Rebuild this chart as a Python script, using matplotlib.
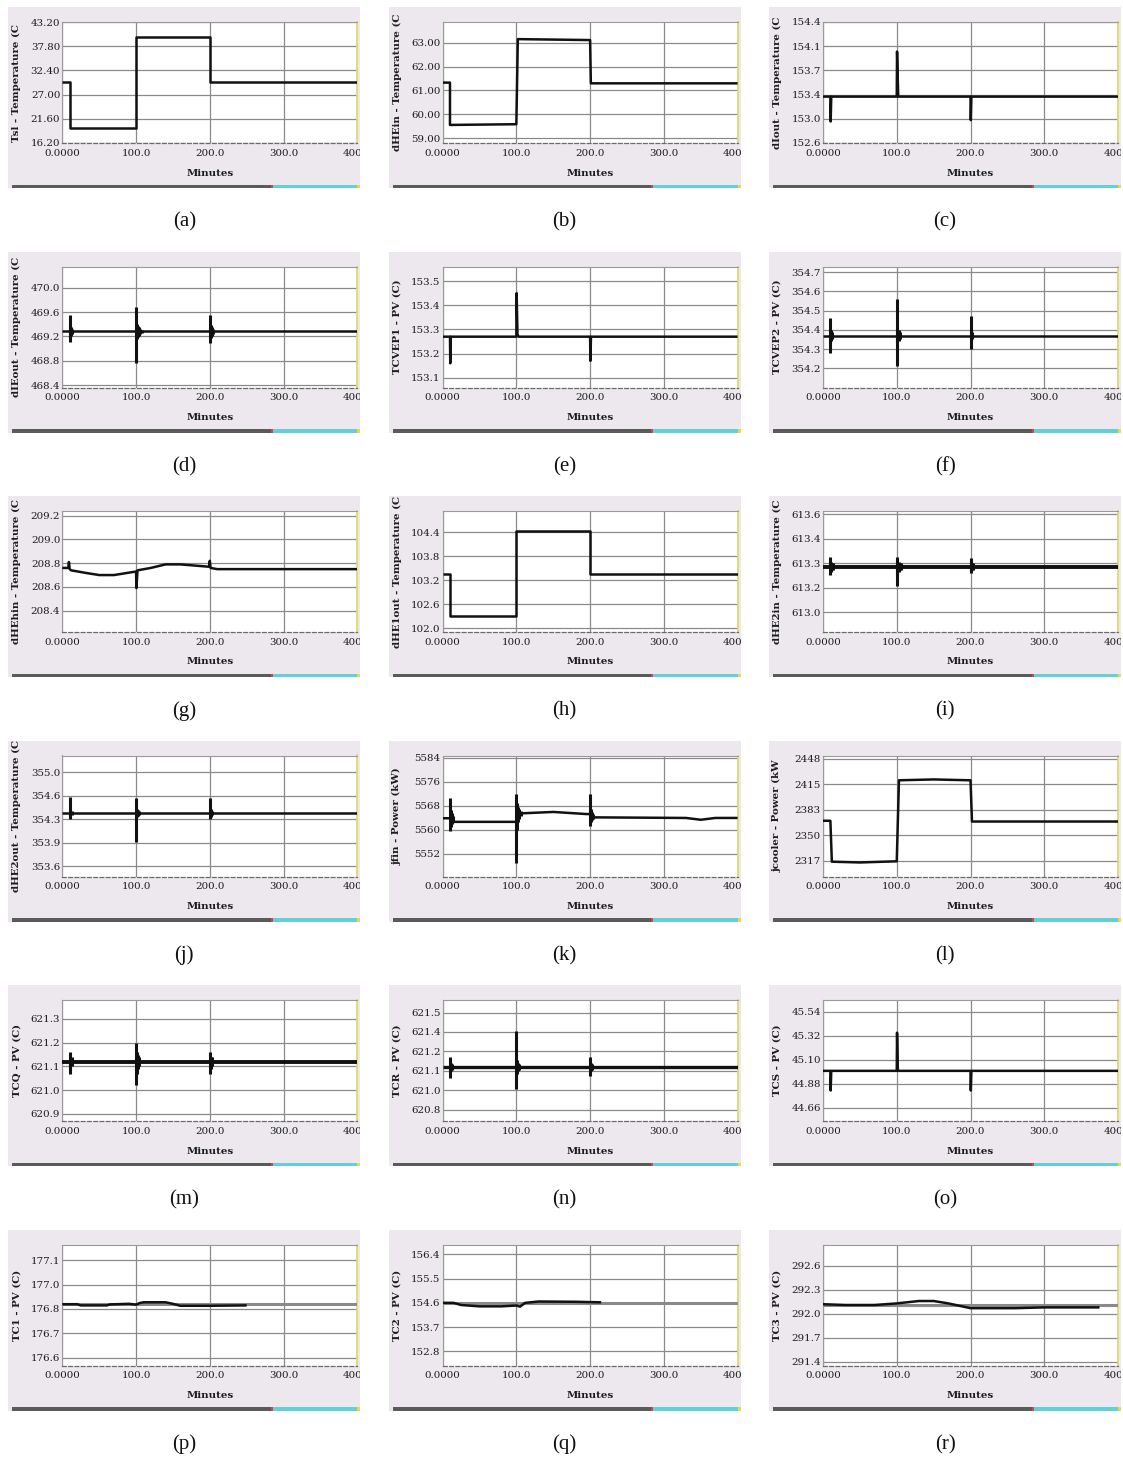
import matplotlib
matplotlib.use("Agg")
import matplotlib.pyplot as plt
from matplotlib.patches import Rectangle
from matplotlib.transforms import Bbox, TransformedBbox

# ---------------------------------------------------------------- data
x_ticks = [0, 100, 200, 300, 400]
x_ticklabels = ["0.0000", "100.0", "200.0", "300.0", "400.0"]
x_label = "Minutes"
captions = ["(a)", "(b)", "(c)", "(d)", "(e)", "(f)", "(g)", "(h)", "(i)",
            "(j)", "(k)", "(l)", "(m)", "(n)", "(o)", "(p)", "(q)", "(r)"]

# (a)
a_ylabel = "Tsl - Temperature (C"
a_time = [0, 10, 100, 200, 400]
a_value = [29.9, 19.6, 39.8, 29.9, 29.9]
a_yticks = [16.2, 21.6, 27.0, 32.4, 37.8, 43.2]
a_yticklabels = ["16.20", "21.60", "27.00", "32.40", "37.80", "43.20"]

# (b)
b_ylabel = "dHEin - Temperature (C"
b_time = [0, 10, 10, 100, 102, 200, 201, 400]
b_value = [61.33, 61.33, 59.55, 59.58, 63.16, 63.12, 61.30, 61.30]
b_yticks = [59, 60, 61, 62, 63]
b_yticklabels = ["59.00", "60.00", "61.00", "62.00", "63.00"]

# (c)
c_ylabel = "dIout - Temperature (C"
c_time = [0, 10, 10.4, 11.2, 100, 100.4, 102, 200, 200.4, 201.2, 400]
c_value = [153.33, 153.33, 152.96, 153.33, 153.33, 154.0, 153.33, 153.33, 152.98, 153.33, 153.33]
c_yticks = [152.64, 153.0, 153.36, 153.72, 154.08, 154.44]
c_yticklabels = ["152.6", "153.0", "153.4", "153.7", "154.1", "154.4"]

# (d)
d_ylabel = "dIEout - Temperature (C"
d_time = [0, 400]
d_value = [469.29, 469.29]
d_burst_t = [10, 10.8, 12, 13.5, 100, 101, 102.5, 104, 106, 108, 200, 201, 202.5, 204]
d_burst_hi = [469.55, 469.38, 469.35, 469.32, 469.69, 469.40, 469.37, 469.35, 469.32, 469.30, 469.55, 469.38, 469.35, 469.32]
d_burst_lo = [469.11, 469.18, 469.21, 469.24, 468.76, 469.16, 469.19, 469.21, 469.24, 469.26, 469.10, 469.18, 469.21, 469.24]
d_yticks = [468.4, 468.8, 469.2, 469.6, 470.0]
d_yticklabels = ["468.4", "468.8", "469.2", "469.6", "470.0"]

# (e)
e_ylabel = "TCVEP1 - PV (C)"
e_time = [0, 10, 10.4, 11.2, 100, 100.4, 101.5, 103, 200, 200.4, 201.2, 400]
e_value = [153.27, 153.27, 153.16, 153.27, 153.27, 153.45, 153.28, 153.27, 153.27, 153.17, 153.27, 153.27]
e_yticks = [153.1, 153.2, 153.3, 153.4, 153.5]
e_yticklabels = ["153.1", "153.2", "153.3", "153.4", "153.5"]

# (f)
f_ylabel = "TCVEP2 - PV (C)"
f_time = [0, 400]
f_value = [354.37, 354.37]
f_burst_t = [10, 11, 12.5, 100, 101, 102.5, 104, 200, 201, 202.5]
f_burst_hi = [354.46, 354.40, 354.39, 354.56, 354.41, 354.40, 354.39, 354.47, 354.40, 354.39]
f_burst_lo = [354.28, 354.34, 354.35, 354.21, 354.33, 354.34, 354.35, 354.30, 354.34, 354.35]
f_yticks = [354.2, 354.3, 354.4, 354.5, 354.6, 354.7]
f_yticklabels = ["354.2", "354.3", "354.4", "354.5", "354.6", "354.7"]

# (g)
g_ylabel = "dHEhin - Temperature (C"
g_time = [0, 8, 9, 10, 12, 30, 50, 70, 90, 100, 100.5, 102, 120, 140, 160, 180, 199, 200, 201, 210, 240, 400]
g_value = [208.76, 208.76, 208.81, 208.75, 208.74, 208.72, 208.70, 208.70, 208.72, 208.73, 208.59, 208.74,
           208.76, 208.79, 208.79, 208.78, 208.77, 208.82, 208.76, 208.75, 208.75, 208.75]
g_yticks = [208.4, 208.6, 208.8, 209.0, 209.2]
g_yticklabels = ["208.4", "208.6", "208.8", "209.0", "209.2"]

# (h)
h_ylabel = "dHE1out - Temperature (C"
h_time = [0, 10, 100, 200, 400]
h_value = [103.35, 102.30, 104.42, 103.35, 103.35]
h_yticks = [102.0, 102.6, 103.2, 103.8, 104.4]
h_yticklabels = ["102.0", "102.6", "103.2", "103.8", "104.4"]

# (i)
i_ylabel = "dHE2in - Temperature (C"
i_time = [0, 400]
i_value = [613.28, 613.28]
i_burst_t = [10, 11, 12.5, 14, 100, 101, 102.5, 104, 106, 200, 201, 202.5, 204]
i_burst_hi = [613.34, 613.31, 613.30, 613.30, 613.34, 613.31, 613.31, 613.30, 613.30, 613.33, 613.31, 613.30, 613.30]
i_burst_lo = [613.23, 613.25, 613.26, 613.26, 613.16, 613.22, 613.25, 613.26, 613.26, 613.24, 613.25, 613.26, 613.26]
i_yticks = [613.0, 613.15, 613.3, 613.45, 613.6]
i_yticklabels = ["613.0", "613.2", "613.3", "613.4", "613.6"]

# (j)
j_ylabel = "dHE2out - Temperature (C"
j_time = [0, 400]
j_value = [354.39, 354.39]
j_burst_t = [10, 11, 12.5, 100, 101, 102.5, 104, 200, 201, 202.5]
j_burst_hi = [354.63, 354.45, 354.43, 354.62, 354.46, 354.44, 354.42, 354.62, 354.45, 354.43]
j_burst_lo = [354.30, 354.34, 354.36, 353.96, 354.33, 354.35, 354.36, 354.30, 354.34, 354.36]
j_yticks = [353.6, 353.95, 354.3, 354.65, 355.0]
j_yticklabels = ["353.6", "353.9", "354.3", "354.6", "355.0"]

# (k)
k_ylabel = "jfin - Power (kW)"
k_time = [0, 10, 14, 100, 104, 150, 195, 200, 204, 330, 350, 370, 400]
k_value = [5563.9, 5563.9, 5562.7, 5562.7, 5565.5, 5566.0, 5565.3, 5565.3, 5564.2, 5564.0, 5563.4, 5564.0, 5564.0]
k_burst_t = [10, 11, 12.5, 14, 100, 101, 102.5, 104, 106, 200, 201, 202.5, 204]
k_burst_hi = [5570.7, 5566.5, 5565.5, 5564.8, 5572.0, 5569.0, 5567.5, 5567.0, 5566.3, 5572.0, 5567.0, 5566.0, 5565.2]
k_burst_lo = [5559.6, 5561.0, 5562.0, 5562.5, 5549.1, 5560.0, 5562.5, 5563.8, 5564.5, 5561.3, 5562.5, 5563.2, 5563.6]
k_yticks = [5552, 5560, 5568, 5576, 5584]
k_yticklabels = ["5552", "5560", "5568", "5576", "5584"]

# (l)
l_ylabel = "jcooler - Power (kW"
l_time = [0, 10, 12, 50, 100, 103, 150, 200, 202, 400]
l_value = [2368.5, 2368.5, 2316.0, 2315.0, 2316.5, 2420.4, 2421.5, 2420.4, 2367.5, 2367.5]
l_yticks = [2317, 2349.75, 2382.5, 2415.25, 2448]
l_yticklabels = ["2317", "2350", "2383", "2415", "2448"]

# (m)
m_ylabel = "TCQ - PV (C)"
m_time = [0, 400]
m_value = [621.12, 621.12]
m_burst_t = [10, 11, 12.5, 100, 101, 102.5, 104, 200, 201, 202.5]
m_burst_hi = [621.16, 621.14, 621.14, 621.20, 621.16, 621.15, 621.14, 621.16, 621.14, 621.14]
m_burst_lo = [621.07, 621.09, 621.10, 621.02, 621.07, 621.09, 621.10, 621.07, 621.09, 621.10]
m_yticks = [620.9, 621.0, 621.1, 621.2, 621.3]
m_yticklabels = ["620.9", "621.0", "621.1", "621.2", "621.3"]

# (n)
n_ylabel = "TCR - PV (C)"
n_time = [0, 400]
n_value = [621.13, 621.13]
n_burst_t = [10, 11, 12.5, 100, 101, 102.5, 104, 200, 201, 202.5]
n_burst_hi = [621.20, 621.16, 621.15, 621.39, 621.18, 621.16, 621.15, 621.20, 621.16, 621.15]
n_burst_lo = [621.05, 621.10, 621.11, 620.97, 621.08, 621.10, 621.11, 621.06, 621.10, 621.11]
n_yticks = [620.82, 620.96, 621.10, 621.24, 621.38, 621.52]
n_yticklabels = ["620.8", "621.0", "621.1", "621.2", "621.4", "621.5"]

# (o)
o_ylabel = "TCS - PV (C)"
o_time = [0, 10, 10.4, 11.2, 100, 100.4, 101.5, 200, 200.4, 201.2, 400]
o_value = [45.0, 45.0, 44.82, 45.0, 45.0, 45.35, 45.0, 45.0, 44.82, 45.0, 45.0]
o_yticks = [44.66, 44.88, 45.10, 45.32, 45.54]
o_yticklabels = ["44.66", "44.88", "45.10", "45.32", "45.54"]

# (p)
p_ylabel = "TC1 - PV (C)"
p_sp_time = [0, 400]
p_sp_value = [176.873, 176.873]
p_time = [0, 20, 25, 60, 65, 90, 100, 105, 110, 140, 150, 160, 200, 250]
p_value = [176.874, 176.874, 176.868, 176.868, 176.873, 176.876, 176.872, 176.880, 176.884, 176.884, 176.876, 176.866, 176.866, 176.868]
p_yticks = [176.6, 176.725, 176.85, 176.975, 177.1]
p_yticklabels = ["176.6", "176.7", "176.8", "177.0", "177.1"]

# (q)
q_ylabel = "TC2 - PV (C)"
q_sp_time = [0, 400]
q_sp_value = [154.6, 154.6]
q_time = [0, 15, 25, 50, 80, 100, 105, 112, 130, 180, 215]
q_value = [154.60, 154.60, 154.52, 154.47, 154.47, 154.50, 154.46, 154.60, 154.65, 154.64, 154.62]
q_yticks = [152.8, 153.7, 154.6, 155.5, 156.4]
q_yticklabels = ["152.8", "153.7", "154.6", "155.5", "156.4"]

# (r)
r_ylabel = "TC3 - PV (C)"
r_sp_time = [0, 400]
r_sp_value = [292.11, 292.11]
r_time = [0, 30, 70, 100, 130, 150, 170, 190, 200, 260, 300, 375]
r_value = [292.12, 292.11, 292.11, 292.13, 292.16, 292.16, 292.13, 292.09, 292.07, 292.07, 292.08, 292.08]
r_yticks = [291.4, 291.7, 292.0, 292.3, 292.6]
r_yticklabels = ["291.4", "291.7", "292.0", "292.3", "292.6"]

# --------------------------------------------------------------- layout
W, H = 1123, 1459
plt.rcParams["font.family"] = ["DejaVu Serif"]
fig = plt.figure(figsize=(W / 100, H / 100), dpi=100)
fig.patch.set_facecolor("white")

panels = [
    dict(yl=a_ylabel, t=a_time, v=a_value, yt=a_yticks, ytl=a_yticklabels, ylim=(16.2, 43.2), steps=True),
    dict(yl=b_ylabel, t=b_time, v=b_value, yt=b_yticks, ytl=b_yticklabels, ylim=(58.79, 63.88)),
    dict(yl=c_ylabel, t=c_time, v=c_value, yt=c_yticks, ytl=c_yticklabels, ylim=(152.64, 154.44)),
    dict(yl=d_ylabel, t=d_time, v=d_value, yt=d_yticks, ytl=d_yticklabels, ylim=(468.36, 470.35),
         burst=(d_burst_t, d_burst_lo, d_burst_hi)),
    dict(yl=e_ylabel, t=e_time, v=e_value, yt=e_yticks, ytl=e_yticklabels, ylim=(153.06, 153.56)),
    dict(yl=f_ylabel, t=f_time, v=f_value, yt=f_yticks, ytl=f_yticklabels, ylim=(354.10, 354.73),
         burst=(f_burst_t, f_burst_lo, f_burst_hi)),
    dict(yl=g_ylabel, t=g_time, v=g_value, yt=g_yticks, ytl=g_yticklabels, ylim=(208.22, 209.24)),
    dict(yl=h_ylabel, t=h_time, v=h_value, yt=h_yticks, ytl=h_yticklabels, ylim=(101.9, 104.93), steps=True),
    dict(yl=i_ylabel, t=i_time, v=i_value, yt=i_yticks, ytl=i_yticklabels, ylim=(612.88, 613.62),
         burst=(i_burst_t, i_burst_lo, i_burst_hi), lw=2.8),
    dict(yl=j_ylabel, t=j_time, v=j_value, yt=j_yticks, ytl=j_yticklabels, ylim=(353.45, 355.25),
         burst=(j_burst_t, j_burst_lo, j_burst_hi)),
    dict(yl=k_ylabel, t=k_time, v=k_value, yt=k_yticks, ytl=k_yticklabels, ylim=(5544.5, 5584.8),
         burst=(k_burst_t, k_burst_lo, k_burst_hi)),
    dict(yl=l_ylabel, t=l_time, v=l_value, yt=l_yticks, ytl=l_yticklabels, ylim=(2297.0, 2452.2)),
    dict(yl=m_ylabel, t=m_time, v=m_value, yt=m_yticks, ytl=m_yticklabels, ylim=(620.87, 621.38),
         burst=(m_burst_t, m_burst_lo, m_burst_hi), lw=2.8),
    dict(yl=n_ylabel, t=n_time, v=n_value, yt=n_yticks, ytl=n_yticklabels, ylim=(620.74, 621.61),
         burst=(n_burst_t, n_burst_lo, n_burst_hi), lw=2.4),
    dict(yl=o_ylabel, t=o_time, v=o_value, yt=o_yticks, ytl=o_yticklabels, ylim=(44.54, 45.65)),
    dict(yl=p_ylabel, t=p_time, v=p_value, yt=p_yticks, ytl=p_yticklabels, ylim=(176.56, 177.18),
         sp=(p_sp_time, p_sp_value)),
    dict(yl=q_ylabel, t=q_time, v=q_value, yt=q_yticks, ytl=q_yticklabels, ylim=(152.27, 156.77),
         sp=(q_sp_time, q_sp_value)),
    dict(yl=r_ylabel, t=r_time, v=r_value, yt=r_yticks, ytl=r_yticklabels, ylim=(291.35, 292.87),
         sp=(r_sp_time, r_sp_value)),
]

PANEL_W, PANEL_H = 352, 181
AX_L, AX_T, AX_W, AX_H = 54, 15, 295, 121
COL_X = [8.3, 388.6, 769.0]
ROW_PITCH = 244.5
ROW_Y0 = 7.0

BG = "#ece8ee"
TXT = "#1c1c1c"


def fig_rect(x, y, w, h):
    """pixel box (top-left origin) -> figure fraction [l, b, w, h]"""
    return [x / W, 1 - (y + h) / H, w / W, h / H]


for idx, p in enumerate(panels):
    r, c = divmod(idx, 3)
    px, py = COL_X[c], ROW_Y0 + r * ROW_PITCH

    # panel background
    l, b, w, h = fig_rect(px, py, PANEL_W, PANEL_H)
    fig.add_artist(Rectangle((l, b), w, h, transform=fig.transFigure,
                             facecolor=BG, edgecolor="none", zorder=0))
    # bottom status bar
    for x0, x1, col in [(px + 4, px + 264, "#5a5a5a"), (px + 264, px + 350, "#63d0d6"),
                        (px + 262.5, px + 264.5, "#c84a4a"), (px + 349, px + 352, "#e6dc40")]:
        l2, b2, w2, h2 = fig_rect(x0, py + 177.5, x1 - x0, 3.5)
        fig.add_artist(Rectangle((l2, b2), w2, h2, transform=fig.transFigure,
                                 facecolor=col, edgecolor="none", zorder=1))

    ax = fig.add_axes(fig_rect(px + AX_L, py + AX_T, AX_W, AX_H))
    ax.set_facecolor("white")
    ax.set_xlim(0, 400)
    ax.set_ylim(*p["ylim"])
    ax.set_xticks(x_ticks)
    ax.set_xticklabels(x_ticklabels)
    ax.set_yticks(p["yt"])
    ax.set_yticklabels(p["ytl"])
    ax.tick_params(axis="both", length=0, labelsize=7.4, colors=TXT)
    ax.tick_params(axis="y", pad=1.5)
    ax.tick_params(axis="x", pad=4)
    ax.grid(True, color="#8a8a8a", lw=0.9)
    ax.set_axisbelow(True)

    for side in ["left", "top"]:
        ax.spines[side].set_color("#9a9a9a")
        ax.spines[side].set_linewidth(0.8)
    ax.spines["right"].set_color("#e0d860")
    ax.spines["right"].set_linewidth(1.2)
    ax.spines["bottom"].set_color("#6a6a6a")
    ax.spines["bottom"].set_linewidth(0.9)
    ax.spines["bottom"].set_linestyle((0, (3, 2)))

    lw = p.get("lw", 1.8)
    if "sp" in p:
        ax.plot(p["sp"][0], p["sp"][1], color="#8a8a8a", lw=2.2, zorder=3, solid_capstyle="butt")
    ax.plot(p["t"], p["v"], color="#111111", lw=lw, zorder=4,
            drawstyle="steps-post" if p.get("steps") else "default", solid_capstyle="butt")
    if "burst" in p:
        bt, blo, bhi = p["burst"]
        ax.vlines(bt, blo, bhi, color="#111111", lw=2.2, zorder=5)

    ax.set_xlabel(x_label, fontsize=7.4, fontweight="bold", color=TXT, va="center")
    ax.xaxis.set_label_coords(0.5, -30 / AX_H)
    ax.set_ylabel(p["yl"], fontsize=7.4, fontweight="bold", color=TXT, va="center")
    ax.yaxis.set_label_coords(-45.5 / AX_W, 0.5)

    # clip tick labels to the panel (the last x label is cut off at the panel edge, as in the source)
    clip = TransformedBbox(Bbox.from_bounds(*fig_rect(px, py, PANEL_W, PANEL_H)), fig.transFigure)
    for lab in ax.get_xticklabels() + ax.get_yticklabels() + [ax.yaxis.label]:
        lab.set_clip_box(clip)
        lab.set_clip_on(True)

    # caption
    cx = (px + PANEL_W / 2) / W
    cy = 1 - (py + 215) / H
    fig.text(cx, cy, captions[idx], ha="center", va="center", fontsize=15,
             family=["Liberation Serif", "DejaVu Serif"], color="#111111")

fig.savefig("out.png", dpi=100, facecolor="white")
